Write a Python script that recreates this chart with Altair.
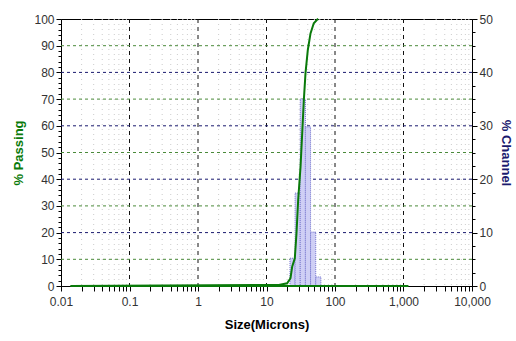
import altair as alt
import pandas as pd

# ---- data ----
curve_size = [0.0138, 15.1, 20.0, 22.4, 23.7, 25.9, 27.4, 29.0, 31.4, 33.2, 35.1, 37.1, 40.1, 43.9, 49.0, 55.0, 57.0]
curve_pass = [0, 0.4, 1.0, 2.9, 7.2, 10.4, 19.7, 32.2, 44.7, 57.2, 69.7, 79.7, 88.4, 94.6, 98.4, 99.8, 100]
baseline_from = [0.0138]
baseline_to = [1180]

bin_lo = [22.0, 26.16, 31.11, 37.0, 44.0, 52.33]
bin_hi = [26.16, 31.11, 37.0, 44.0, 52.33, 62.23]
channel = [5.2, 17.4, 35.0, 29.8, 10.1, 1.7]

decades = [0.01, 0.1, 1, 10, 100, 1000, 10000]
decade_labels = ["0.01", "0.1", "1", "10", "100", "1,000", "10,000"]
hgrid_vals = [10, 20, 30, 40, 50, 60, 70, 80, 90]

FONT = "Liberation Sans"
GREEN = "#0a7a0a"
NAVY = "#1a1a6e"

minor_vals = []
for d in decades[:-1]:
    for k in range(2, 10):
        minor_vals.append(round(d * k, 6))
x_axis_vals = sorted(decades + minor_vals)

curve_df = pd.DataFrame({"size": curve_size, "passing": curve_pass})
base_df = pd.DataFrame({"a": baseline_from, "b": baseline_to, "y": [0]})
bars_df = pd.DataFrame({"lo": bin_lo, "hi": bin_hi, "ch": channel})
hgrid_df = pd.DataFrame({"v": hgrid_vals,
                         "kind": ["odd" if (v // 10) % 2 else "even" for v in hgrid_vals]})
minor_df = pd.DataFrame({"x": minor_vals})
major_df = pd.DataFrame({"x": decades[1:-1]})

label_map = "{" + ",".join(f"'{d}':'{l}'" for d, l in zip(decades, decade_labels)) + "}"

xscale = alt.Scale(type="log", domain=[0.01, 10000], nice=False)
yL = alt.Scale(domain=[0, 100], nice=False)
yR = alt.Scale(domain=[0, 50], nice=False)

x_axis = alt.Axis(
    values=x_axis_vals,
    labelExpr=f"indexof({decades}, datum.value) >= 0 ? {label_map}[toString(datum.value)] : ''",
    title="Size(Microns)", titleFont=FONT, titleFontSize=13, titleFontWeight="bold",
    titleColor="#000", titlePadding=11,
    labelFont=FONT, labelFontSize=12, labelColor="#333", labelPadding=5,
    tickSize=5, tickColor="#000", domainColor="#000", grid=False, labelFlush=False,
)

minor_grid = alt.Chart(minor_df).mark_rule(color="#cccccc", strokeDash=[1, 4], strokeWidth=1).encode(
    x=alt.X("x:Q", scale=xscale, axis=x_axis))
major_grid = alt.Chart(major_df).mark_rule(color="#111111", strokeDash=[4, 4], strokeWidth=1).encode(
    x=alt.X("x:Q", scale=xscale, axis=x_axis))
hgrid = alt.Chart(hgrid_df).mark_rule(strokeDash=[3, 3], strokeWidth=1).encode(
    y=alt.Y("v:Q", scale=yL, axis=None),
    color=alt.Color("kind:N", scale=alt.Scale(domain=["odd", "even"], range=["#4a8a3a", NAVY]), legend=None),
)

bars = alt.Chart(bars_df).mark_rect(fill="#cfcff5", stroke="#7070cc", strokeDash=[1, 1], strokeWidth=1).encode(
    x=alt.X("lo:Q", scale=xscale, axis=x_axis),
    x2="hi:Q",
    y=alt.Y("ch:Q", scale=yR, axis=alt.Axis(
        orient="right", title="% Channel", titleColor=NAVY, titleFont=FONT, titleFontSize=13,
        titleFontWeight="bold", titlePadding=6,
        values=[v * 2.5 for v in range(21)],
        labelExpr="datum.value % 10 == 0 ? datum.value : ''",
        tickSize={"condition": {"test": "datum.value % 10 == 0", "value": 5}, "value": 3},
        labelFont=FONT, labelFontSize=12, labelColor="#333", labelPadding=2,
        tickColor="#000", domainColor="#000", grid=False)),
    y2=alt.datum(0),
)

baseline = alt.Chart(base_df).mark_rule(color=GREEN, strokeWidth=2).encode(
    x=alt.X("a:Q", scale=xscale, axis=x_axis),
    x2="b:Q",
    y=alt.Y("y:Q", scale=yL, axis=None),
)

line = alt.Chart(curve_df).mark_line(color=GREEN, strokeWidth=2).encode(
    x=alt.X("size:Q", scale=xscale, axis=x_axis),
    y=alt.Y("passing:Q", scale=yL, axis=alt.Axis(
        orient="left", title="% Passing", titleColor=GREEN, titleFont=FONT, titleFontSize=13,
        titleFontWeight="bold", titlePadding=8,
        values=list(range(0, 101, 2)),
        labelExpr="datum.value % 10 == 0 ? datum.value : ''",
        tickSize={"condition": {"test": "datum.value % 10 == 0", "value": 5}, "value": 3},
        labelFont=FONT, labelFontSize=12, labelColor="#333", labelPadding=2,
        tickColor="#000", domainColor="#000", grid=False)),
)

chart = alt.layer(minor_grid, major_grid, hgrid, bars, baseline, line).resolve_scale(
    y="independent"
).properties(
    width=411, height=267,
    autosize=alt.AutoSizeParams(type="none"),
    padding={"left": 61, "top": 19, "right": 44, "bottom": 55},
    background="white",
).configure_view(stroke="#000", strokeWidth=1)

chart.save("out.html", embed_options={"renderer": "svg", "actions": False})
